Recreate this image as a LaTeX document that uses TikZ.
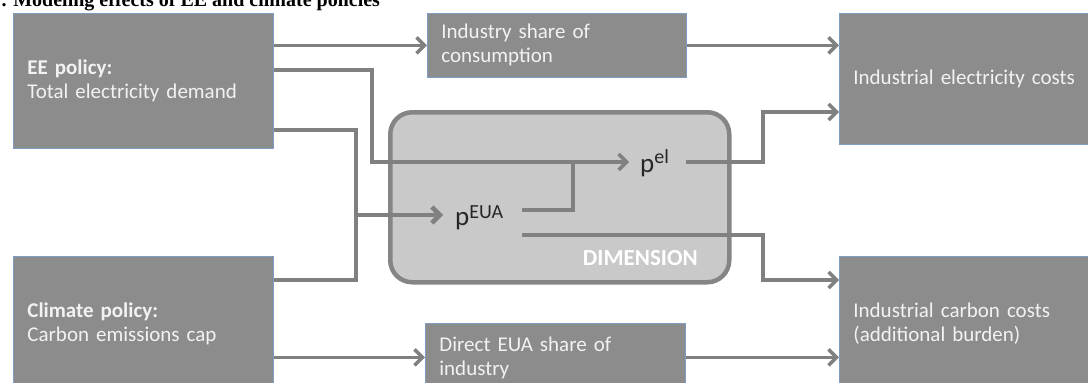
\documentclass[tikz,border=0pt]{standalone}
\usepackage{fontspec}
\setmainfont{Carlito}
\newfontfamily\titlefont{Liberation Serif}
\usetikzlibrary{arrows.meta,calc}
\definecolor{boxgray}{HTML}{8C8C8C}
\definecolor{boxedge}{HTML}{7F9CC4}
\definecolor{linegray}{HTML}{808080}
\definecolor{dimfill}{HTML}{C9C9C9}
\definecolor{dimedge}{HTML}{858585}
\definecolor{boxtext}{HTML}{F2F2F2}
\begin{document}
\begin{tikzpicture}[x=1pt,y=-1pt,
  box/.style={draw=boxedge, line width=0.8pt, fill=boxgray, text=boxtext,
    anchor=north west, inner xsep=14pt, inner ysep=0pt, align=left,
    font=\fontsize{21}{24}\selectfont, text width=#1-28pt},
  dimbox/.style={draw=dimedge, line width=4.5pt, fill=dimfill, rounded corners=22pt,
    anchor=north west, inner sep=0pt},
  conn/.style={draw=linegray, line width=3.5pt},
  >={Straight Barb[length=8pt,width=16pt]},
  pfont/.style={font=\fontsize{27}{27}\selectfont, inner sep=0pt, text=black!85}
]
\useasboundingbox (0,0) rectangle (1088,383);
\clip (0,0) rectangle (1088,383);

% title (cut off at the top)
\node[anchor=base west, inner sep=0pt, font=\titlefont\bfseries\fontsize{20}{20}\selectfont]
  (title) at (1.5,6) {. Modeling effects of EE and climate policies};

% boxes
\node[box=260pt, minimum height=135pt] (ee) at (13,13)
  {\textbf{EE policy:}\\Total electricity demand};
\node[box=260pt, minimum height=134pt] (clim) at (13,256)
  {\textbf{Climate policy:}\\Carbon emissions cap};
\node[box=259pt, minimum height=64pt] (ishare) at (427,13)
  {Industry share of\\consumption};
\node[box=260pt, minimum height=68pt] (deua) at (425,323)
  {Direct EUA share of\\industry};
\node[box=262pt, minimum height=131pt] (iel) at (839,13)
  {Industrial electricity costs};
\node[box=262pt, minimum height=134pt] (icarb) at (839,256)
  {Industrial carbon costs\\(additional burden)};

% dimension box
\node[dimbox, minimum width=339pt, minimum height=170pt] (dim) at (388,110) {};
\node[anchor=base east, inner sep=0pt, text=white, font=\bfseries\fontsize{23}{23}\selectfont]
  (dimlabel) at (698,265) {DIMENSION};

% prices
\node[pfont, anchor=base west] (peua) at (455,225)
  {p\raisebox{7pt}{\fontsize{20}{20}\selectfont EUA}};
\node[pfont, anchor=base west] (pel) at (640,172)
  {p\raisebox{9pt}{\fontsize{20}{20}\selectfont el}};

\coordinate (pelin) at (629,162);
\coordinate (pelout) at (686,162);
\coordinate (peuain) at (443,215);
\coordinate (peuaout1) at (522,210);
\coordinate (peuaout2) at (522,235);

% connectors
\draw[conn,->] (ee.east |- ishare.west) -- (ishare.west);
\draw[conn,->] (ishare.east) -- (iel.west |- ishare.east);
\draw[conn,->] ([yshift=-57pt]ee.north east) -| (372,162) -- (pelin);
\draw[conn] ([yshift=-117pt]ee.north east) -| (356,280) -- ([yshift=-24pt]clim.north east);
\draw[conn,->,line width=4.5pt] (356,215) -- (peuain);
\draw[conn] (peuaout1) -| (573,162);
\draw[conn,->] (pelout) -| (763,112) -- ([yshift=-99pt]iel.north west);
\draw[conn,->] (peuaout2) -| (763,280) -- ([yshift=-24pt]icarb.north west);
\draw[conn,->] (clim.east |- deua.west) -- (deua.west);
\draw[conn,->] (deua.east) -- (icarb.west |- deua.east);
\end{tikzpicture}
\end{document}
